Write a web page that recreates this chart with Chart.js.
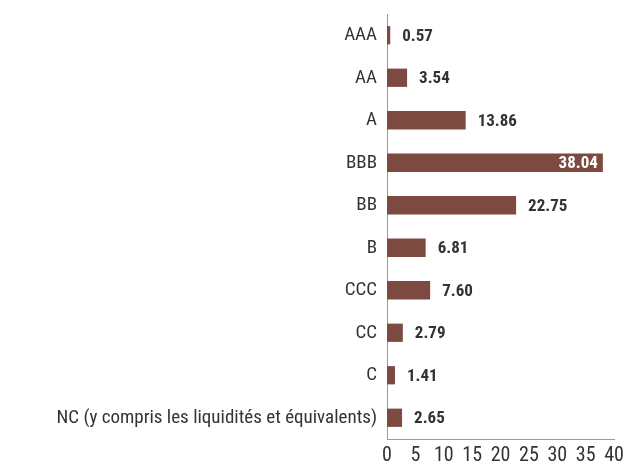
<!DOCTYPE html>
<html><head><meta charset="utf-8">
<script src="https://cdn.jsdelivr.net/npm/chart.js@4.4.1/dist/chart.umd.min.js"></script>
<style>html,body{margin:0;padding:0;background:#fff}#wrap{width:624px;height:466px}</style>
</head><body><div id="wrap"><canvas id="c" width="624" height="466"></canvas></div>
<script>
const categories = ["AAA","AA","A","BBB","BB","B","CCC","CC","C","NC (y compris les liquidités et équivalents)"];
const values = [0.57,3.54,13.86,38.04,22.75,6.81,7.60,2.79,1.41,2.65];
const xTicks = [0,5,10,15,20,25,30,35,40];
const FONT = "'Roboto Condensed','DejaVu Sans Condensed',sans-serif";
const BAR = '#7d4a41';

const labelPlugin = {
  id:'vlabels',
  afterDatasetsDraw(chart){
    const ctx = chart.ctx;
    const meta = chart.getDatasetMeta(0);
    ctx.save();
    ctx.font = "bold 17px " + FONT;
    ctx.textBaseline = 'middle';
    meta.data.forEach((bar,i)=>{
      const txt = values[i].toFixed(2);
      if (values[i] > 30) {
        ctx.fillStyle = '#ffffff';
        ctx.textAlign = 'right';
        ctx.fillText(txt, bar.x - 5, bar.y + 1);
      } else {
        ctx.fillStyle = '#333333';
        ctx.textAlign = 'left';
        ctx.fillText(txt, bar.x + 12, bar.y + 1);
      }
    });
    ctx.restore();
  }
};

new Chart(document.getElementById('c'), {
  type:'bar',
  data:{labels:categories, datasets:[{data:values, backgroundColor:BAR, barPercentage:0.43, categoryPercentage:1}]},
  options:{
    indexAxis:'y', responsive:false, animation:false,
    layout:{padding:{top:14,right:10,left:0,bottom:0}},
    plugins:{legend:{display:false}, tooltip:{enabled:false}},
    scales:{
      x:{min:0,max:40,
        afterBuildTicks(s){ s.ticks = xTicks.map(v=>({value:v})); },
        afterFit(s){ s.height = 27; s.paddingLeft = 0; s.paddingRight = 0; },
        grid:{display:false, drawTicks:false},
        border:{display:true,color:'#999999',width:1},
        ticks:{color:'#333333',font:{family:FONT,size:20},padding:5}
      },
      y:{
        afterFit(s){ s.width = 387; s.paddingTop = 0; s.paddingBottom = 0; },
        grid:{display:false, drawTicks:false},
        border:{display:true,color:'#999999',width:1},
        ticks:{color:'#333333',font:{family:FONT,size:19},padding:10}
      }
    }
  },
  plugins:[labelPlugin]
});
</script></body></html>
